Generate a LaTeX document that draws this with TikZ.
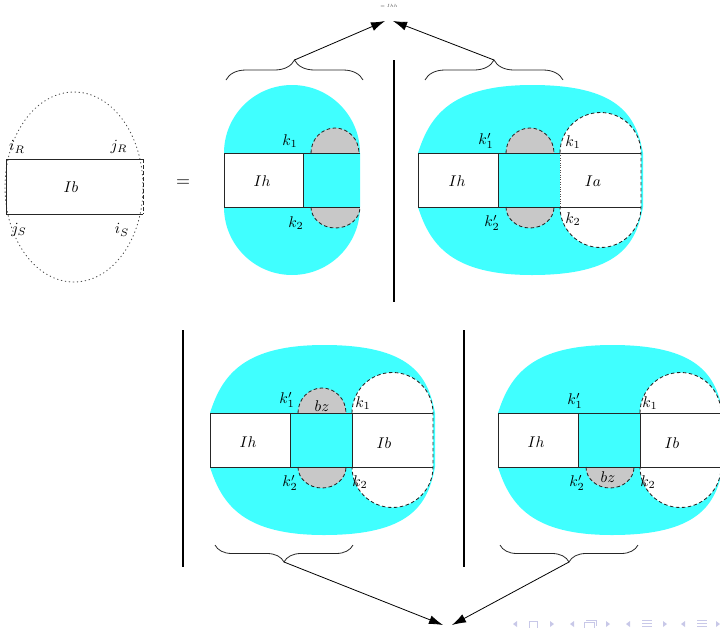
\documentclass[tikz,border=0pt]{standalone}
\usetikzlibrary{arrows.meta,decorations.pathreplacing}
\definecolor{cy}{RGB}{64,255,255}
\definecolor{gr}{RGB}{200,200,200}
\definecolor{navc}{RGB}{200,200,232}
\tikzset{
  rectline/.style={line width=0.9pt, draw=black!85},
  dashline/.style={line width=0.85pt, draw=black!85, dash pattern=on 3.5pt off 2.5pt},
  dotline/.style={line width=0.8pt, draw=black!70, dash pattern=on 0.6pt off 1.8pt},
  lbl/.style={font=\normalsize, scale=1.55, inner sep=0pt},
  bracedown/.style={decorate, decoration={brace, amplitude=#1}, line width=0.8pt, draw=black!85},
  arrowline/.style={line width=0.8pt, -{Latex[length=14pt,width=9pt]}},
  vline/.style={line width=1.1pt},
}
% blob of the right-hand diagrams, in the coordinates of the top right one
\newcommand{\blobfill}{%
  \fill[cy] (418,153) .. controls (430,115) and (452,85) .. (532,85)
    .. controls (618,85) and (636,115) .. (643,153) -- (643,207)
    .. controls (636,245) and (618,275) .. (532,275)
    .. controls (452,275) and (430,245) .. (418,207) -- cycle;
  \fill[white] (418,153) rectangle (498,207);
  \fill[white] (560,153) arc[start angle=180,end angle=0,radius=40.5pt] -- (641,207)
    arc[start angle=0,end angle=-180,radius=40.5pt] -- cycle;
  \draw[dashline] (560,153) arc[start angle=180,end angle=0,radius=40.5pt] -- (641,207)
    arc[start angle=0,end angle=-180,radius=40.5pt];
}
\newcommand{\bloblines}{%
  \draw[rectline] (641,153) -- (418,153) -- (418,207) -- (641,207);
  \draw[rectline] (498,153) -- (498,207);
}
\newcommand{\greytop}{\filldraw[fill=gr,dashline] (506,153) arc[start angle=180,end angle=0,x radius=24pt,y radius=25pt];}
\newcommand{\greybot}{\filldraw[fill=gr,dashline] (506,207) arc[start angle=180,end angle=360,x radius=24pt,y radius=21pt];}
\begin{document}
\begin{tikzpicture}[x=1pt,y=-1pt]
\useasboundingbox (0,0) rectangle (720,627);
\clip (0,0) rectangle (720,627);

% ---------- left diagram ----------
\draw[black!70, line width=0.9pt, dash pattern=on 0.7pt off 3.3pt, line cap=round]
  (74,187) ellipse [x radius=69pt, y radius=95pt];
\draw[rectline] (143,159) -- (6,159) -- (6,214) -- (143,214);
\draw[dashline] (143,159) -- (143,214);
\node[lbl] (lIb) at (71,187) {$Ib$};
\node[lbl] (liR) at (17,147) {$i_R$};
\node[lbl] (ljR) at (119,147) {$j_R$};
\node[lbl] (ljS) at (19,230) {$j_S$};
\node[lbl] (liS) at (122,230) {$i_S$};
\node[font=\normalsize, scale=1.8, inner sep=0pt] (eq) at (183,183) {$=$};

% ---------- diagram A ----------
\fill[cy] (224,153) arc[start angle=180,end angle=0,radius=68pt] -- (360,207)
  arc[start angle=0,end angle=-180,radius=68pt] -- cycle;
\fill[white] (224,153) rectangle (303,207);
\filldraw[fill=gr,dashline] (311,153) arc[start angle=180,end angle=0,x radius=24pt,y radius=25pt];
\filldraw[fill=gr,dashline] (311,207) arc[start angle=180,end angle=360,x radius=24.5pt,y radius=21pt];
\draw[rectline] (360,153) -- (224,153) -- (224,207) -- (360,207);
\draw[rectline] (303,153) -- (303,207);
\node[lbl] (aIh) at (262,181) {$Ih$};
\node[lbl] (ak1) at (290,141) {$k_1$};
\node[lbl] (ak2) at (296,223) {$k_2$};

% ---------- diagram B ----------
\blobfill
\greytop
\greybot
\bloblines
\draw[dotline] (560,153) -- (560,207);
\node[lbl] (bIh) at (457,181) {$Ih$};
\node[lbl] (bIa) at (593,181) {$Ia$};
\node[lbl] (bk1p) at (486,141) {$k_1'$};
\node[lbl] (bk2p) at (492,223) {$k_2'$};
\node[lbl] (bk1) at (573,142) {$k_1$};
\node[lbl] (bk2) at (573,219) {$k_2$};

% ---------- diagram C ----------
\begin{scope}[shift={(-208,260)}]
\blobfill
\greytop
\greybot
\bloblines
\draw[rectline] (560,153) -- (560,207);
\end{scope}
\node[lbl] (cIh) at (248,442) {$Ih$};
\node[lbl] (cIb) at (384,443) {$Ib$};
\node[lbl] (cbz) at (322,406) {$bz$};
\node[lbl] (ck1p) at (287,400) {$k_1'$};
\node[lbl] (ck2p) at (290,483) {$k_2'$};
\node[lbl] (ck1) at (363,403) {$k_1$};
\node[lbl] (ck2) at (360,482) {$k_2$};

% ---------- diagram D ----------
\begin{scope}[shift={(80,260)}]
\blobfill
\greybot
\bloblines
\draw[rectline] (560,153) -- (560,207);
\end{scope}
\node[lbl] (dIh) at (536,442) {$Ih$};
\node[lbl] (dIb) at (672,443) {$Ib$};
\node[lbl] (dbz) at (608,477) {$bz$};
\node[lbl] (dk1p) at (575,401) {$k_1'$};
\node[lbl] (dk2p) at (577,483) {$k_2'$};
\node[lbl] (dk1) at (650,403) {$k_1$};
\node[lbl] (dk2) at (648,482) {$k_2$};

% ---------- separators ----------
\draw[vline] (394,60) -- (394,302);
\draw[vline] (183,330) -- (183,567);
\draw[vline] (464,330) -- (464,567);

% ---------- braces and arrows ----------
\node[font=\tiny, scale=0.9, text=black!70, inner sep=0pt] (topt) at (389,6) {$=Ihh$};
\coordinate (topL) at (385,21);
\coordinate (topR) at (393,21);
\coordinate (tipA) at (294.5,60);
\coordinate (tipB) at (494,60);
\draw[bracedown=20pt] (226,80) -- (363,80);
\draw[bracedown=20pt] (425,80) -- (563,80);
\draw[arrowline] (tipA) -- (topL);
\draw[arrowline] (tipB) -- (topR);

\coordinate (botL) at (443,625);
\coordinate (botR) at (452,625);
\coordinate (tipC) at (284,562);
\coordinate (tipD) at (569,562);
\draw[bracedown=17pt] (353,545) -- (215,545);
\draw[bracedown=17pt] (638,545) -- (500,545);
\draw[arrowline] (tipC) -- (botL);
\draw[arrowline] (tipD) -- (botR);

% ---------- navigation symbols ----------
\begin{scope}[navc]
\foreach \x in {513,570,626,681} \fill (\x,624) -- (\x+4,621) -- (\x+4,627) -- cycle;
\foreach \x in {550,606,663,716} \fill (\x,621) -- (\x+4,624) -- (\x,627) -- cycle;
\draw[line width=0.8pt] (529,621) rectangle (537,628);
\draw[line width=0.8pt] (584,622) rectangle (594,628);
\draw[line width=0.8pt] (586,620) -- (596,620) -- (596,626);
\foreach \x in {647,702} {
  \draw[line width=0.8pt] (\x-5,620) -- (\x+5,620);
  \draw[line width=0.8pt] (\x-5,623) -- (\x+5,623);
  \draw[line width=0.8pt] (\x-5,626) -- (\x+5,626);
}
\end{scope}
\end{tikzpicture}
\end{document}
